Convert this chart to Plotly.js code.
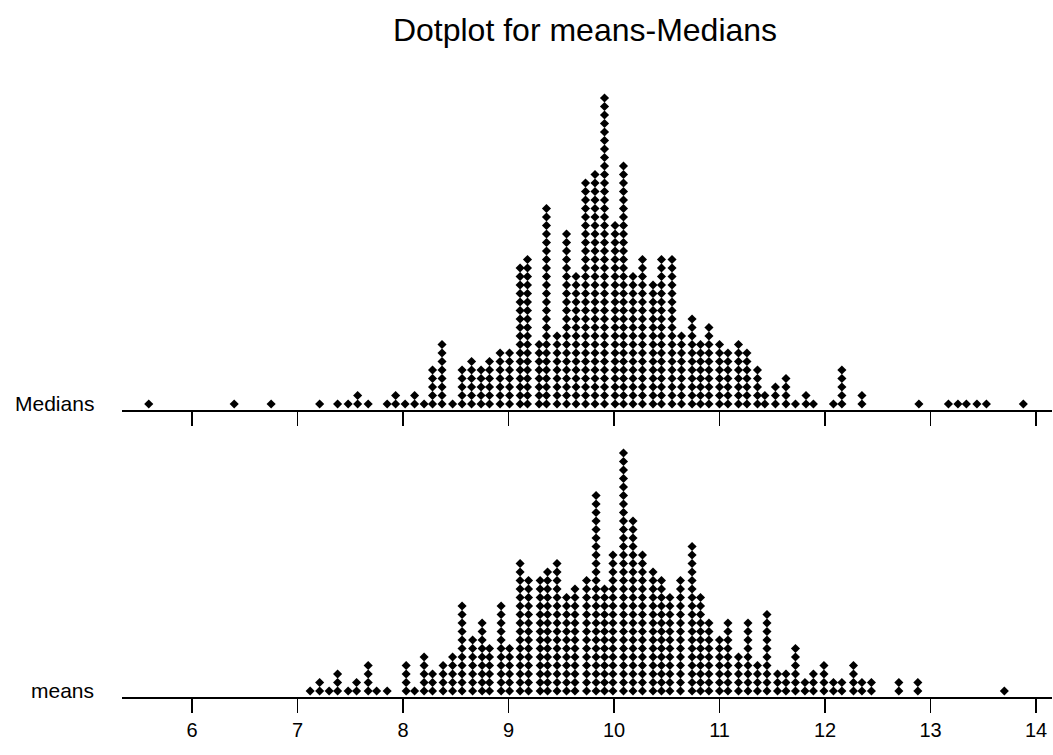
<!DOCTYPE html>
<html>
<head>
<meta charset="utf-8">
<script src="https://cdn.plot.ly/plotly-3.0.1.min.js"></script>
<style>html,body{margin:0;padding:0;background:#fff;}#chart{width:1053px;height:755px;}</style>
</head>
<body>
<div id="chart"></div>
<script>
// Medians: column centres (value) and number of stacked dots
const mediansX = [5.59,6.40,6.75,7.21,7.38,7.48,7.57,7.67,7.85,7.93,8.02,8.11,8.20,8.28,8.37,8.47,8.56,8.65,8.74,8.82,8.92,9.01,9.11,9.18,9.29,9.36,9.46,9.55,9.64,9.73,9.82,9.91,10.01,10.09,10.18,10.27,10.37,10.45,10.55,10.64,10.74,10.82,10.90,11.00,11.08,11.18,11.26,11.36,11.43,11.53,11.63,11.72,11.82,11.89,12.08,12.16,12.35,12.89,13.17,13.26,13.34,13.44,13.53,13.88];
const mediansN = [1,1,1,1,1,1,2,1,1,2,1,2,1,5,8,1,5,6,5,6,7,7,17,18,8,24,9,21,16,27,28,37,22,29,16,18,15,18,18,9,11,8,10,8,7,8,7,5,2,3,4,1,2,1,1,5,2,1,1,1,1,1,1,1];
// means: column centres (value) and number of stacked dots
const meansX = [7.12,7.21,7.30,7.38,7.48,7.56,7.67,7.75,7.85,8.03,8.11,8.20,8.28,8.38,8.47,8.56,8.66,8.75,8.82,8.93,9.01,9.11,9.19,9.30,9.37,9.46,9.55,9.63,9.74,9.83,9.91,9.99,10.09,10.18,10.27,10.37,10.45,10.53,10.63,10.74,10.82,10.90,11.00,11.08,11.18,11.27,11.36,11.45,11.55,11.63,11.72,11.81,11.89,11.99,12.08,12.16,12.27,12.35,12.44,12.70,12.88,13.70];
const meansN = [1,2,1,3,1,2,4,1,1,4,1,5,3,4,5,11,7,9,6,11,6,16,14,14,15,16,12,13,14,24,13,17,29,21,17,15,14,12,14,18,12,9,7,9,5,9,4,10,3,3,6,2,3,4,2,2,4,2,2,2,2,1];
const tickVals = [6,7,8,9,10,11,12,13,14];
const tickText = ["6","7","8","9","10","11","12","13","14"];
const seriesNames = ["Medians","means"];
const chartTitle = "Dotplot for means-Medians";

function stack(xs, ns){
  const px = [], py = [];
  xs.forEach((x,i)=>{ for(let k=1;k<=ns[i];k++){ px.push(x); py.push(k); } });
  return {px, py};
}
const m = stack(mediansX, mediansN);
const a = stack(meansX, meansN);

const marker = {symbol:'diamond', size:7, color:'#000'};
const traces = [
  {x:m.px, y:m.py, type:'scatter', mode:'markers', marker:marker, xaxis:'x', yaxis:'y', cliponaxis:false, hoverinfo:'x'},
  {x:a.px, y:a.py, type:'scatter', mode:'markers', marker:marker, xaxis:'x2', yaxis:'y2', cliponaxis:false, hoverinfo:'x'}
];
const W=1053,H=755;
const xDom=[122/W, 1052/W];
const xRange=[6-70/105.5, 14+16/105.5];
const axCommon = {domain:xDom, range:xRange, showline:true, linewidth:2, linecolor:'#000', ticks:'outside', ticklen:14, tickwidth:1.5, tickcolor:'#000', tickvals:tickVals, ticktext:tickText, showgrid:false, zeroline:false, fixedrange:true};
const layout = {
  width:W, height:H, margin:{l:0,r:0,t:0,b:0}, paper_bgcolor:'#fff', plot_bgcolor:'#fff', showlegend:false,
  font:{family:'Arial, "Liberation Sans", sans-serif', color:'#000'},
  title:{text:chartTitle, xref:'container', yref:'container', x:585/W, xanchor:'center', y:1-30/H, yanchor:'middle', font:{size:32, color:'#000'}},
  xaxis:Object.assign({}, axCommon, {anchor:'y', showticklabels:false}),
  xaxis2:Object.assign({}, axCommon, {anchor:'y2', showticklabels:true, tickfont:{size:20, color:'#000'}}),
  yaxis:{domain:[(H-410)/H, (H-90)/H], range:[0.294, (412.5-90)/8.5], visible:false, fixedrange:true},
  yaxis2:{domain:[(H-697)/H, (H-440)/H], range:[0.294, (699.5-440)/8.5], visible:false, fixedrange:true},
  annotations:[
    {text:seriesNames[0], xref:'paper', yref:'paper', x:96/W, y:(H-403)/H, xanchor:'right', yanchor:'middle', showarrow:false, font:{size:21,color:'#000'}},
    {text:seriesNames[1], xref:'paper', yref:'paper', x:96/W, y:(H-690)/H, xanchor:'right', yanchor:'middle', showarrow:false, font:{size:21,color:'#000'}}
  ]
};
Plotly.newPlot('chart', traces, layout, {displayModeBar:false, staticPlot:true});
</script>
</body>
</html>
